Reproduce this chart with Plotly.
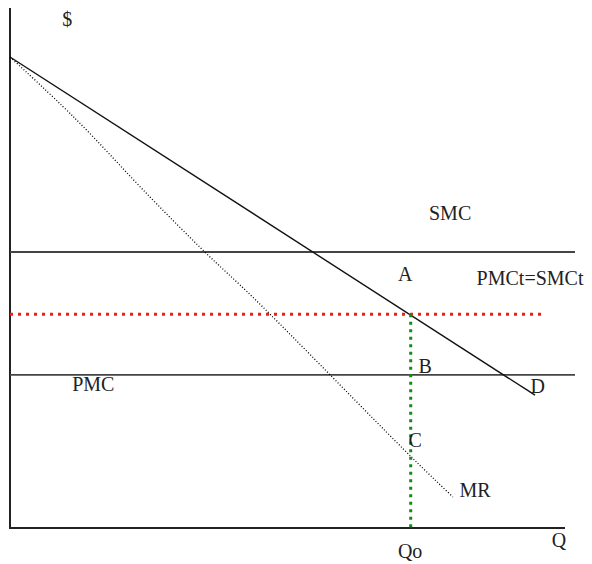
import plotly.graph_objects as go

# Economic units: Q (quantity) and P ($)
axis_q = [0, 100]
axis_p_top = 111
demand_q = [0, 94.6]
demand_p = [100, 28.2]
mr_q = [0, 11.7, 25.2, 35.1, 44.1, 72.3, 79.8]
mr_p = [100, 87.0, 70.3, 58.6, 48.6, 15.1, 6.6]
smc_p = 58.6
pmc_p = 32.5
hline_end_q = 101.8
tax_p = 45.4
tax_end_q = 96.4
qo = 72.2

labels = ["$", "SMC", "A", "PMCt=SMCt", "B", "PMC", "D", "C", "MR", "Qo", "Q"]
label_q = [10.3, 79.3, 71.2, 93.7, 74.8, 15.0, 95.1, 73.0, 83.8, 72.1, 98.9]
label_p = [107.6, 66.5, 53.5, 52.7, 34.0, 30.1, 29.7, 18.3, 7.6, -5.3, -3.0]

fig = go.Figure()
# axes
fig.add_trace(go.Scatter(x=[0, 0, axis_q[1]], y=[axis_p_top, 0, 0], mode="lines",
                         line=dict(color="#222", width=2), hoverinfo="skip"))
# SMC / PMC horizontal lines
for p in [smc_p, pmc_p]:
    fig.add_trace(go.Scatter(x=[0, hline_end_q], y=[p, p], mode="lines",
                             line=dict(color="#444", width=1.8), hoverinfo="skip"))
# demand
fig.add_trace(go.Scatter(x=demand_q, y=demand_p, mode="lines",
                         line=dict(color="#111", width=1.4), hoverinfo="skip"))
# MR
fig.add_trace(go.Scatter(x=mr_q, y=mr_p, mode="lines",
                         line=dict(color="#000", width=1.3, dash="1px,2px", shape="spline"),
                         hoverinfo="skip"))
# red dotted tax line
fig.add_trace(go.Scatter(x=[0, tax_end_q], y=[tax_p, tax_p], mode="lines",
                         line=dict(color="#e8201a", width=3, dash="3px,5px"), hoverinfo="skip"))
# green dotted Qo line
fig.add_trace(go.Scatter(x=[qo, qo], y=[tax_p, 0], mode="lines",
                         line=dict(color="#138a13", width=3, dash="3px,4.5px"), hoverinfo="skip"))
# labels
fig.add_trace(go.Scatter(x=label_q, y=label_p, mode="text", text=labels,
                         textfont=dict(family="Liberation Serif", size=20, color="#222"),
                         textposition="middle center", hoverinfo="skip", cliponaxis=False))

px_per_q = 5.55
px_per_p = 4.71
W, H = 584, 556  # page body margin of 8px takes the rest of the 592x564 window
ox, oy = 2, 520  # pixel position of the origin inside the figure
fig.update_layout(
    width=W, height=H,
    margin=dict(l=0, r=0, t=0, b=0),
    paper_bgcolor="white", plot_bgcolor="white",
    showlegend=False,
    xaxis=dict(range=[-ox / px_per_q, (W - ox) / px_per_q], visible=False, fixedrange=True),
    yaxis=dict(range=[(oy - H) / px_per_p, oy / px_per_p], visible=False, fixedrange=True),
)
fig.write_html("out.html")
